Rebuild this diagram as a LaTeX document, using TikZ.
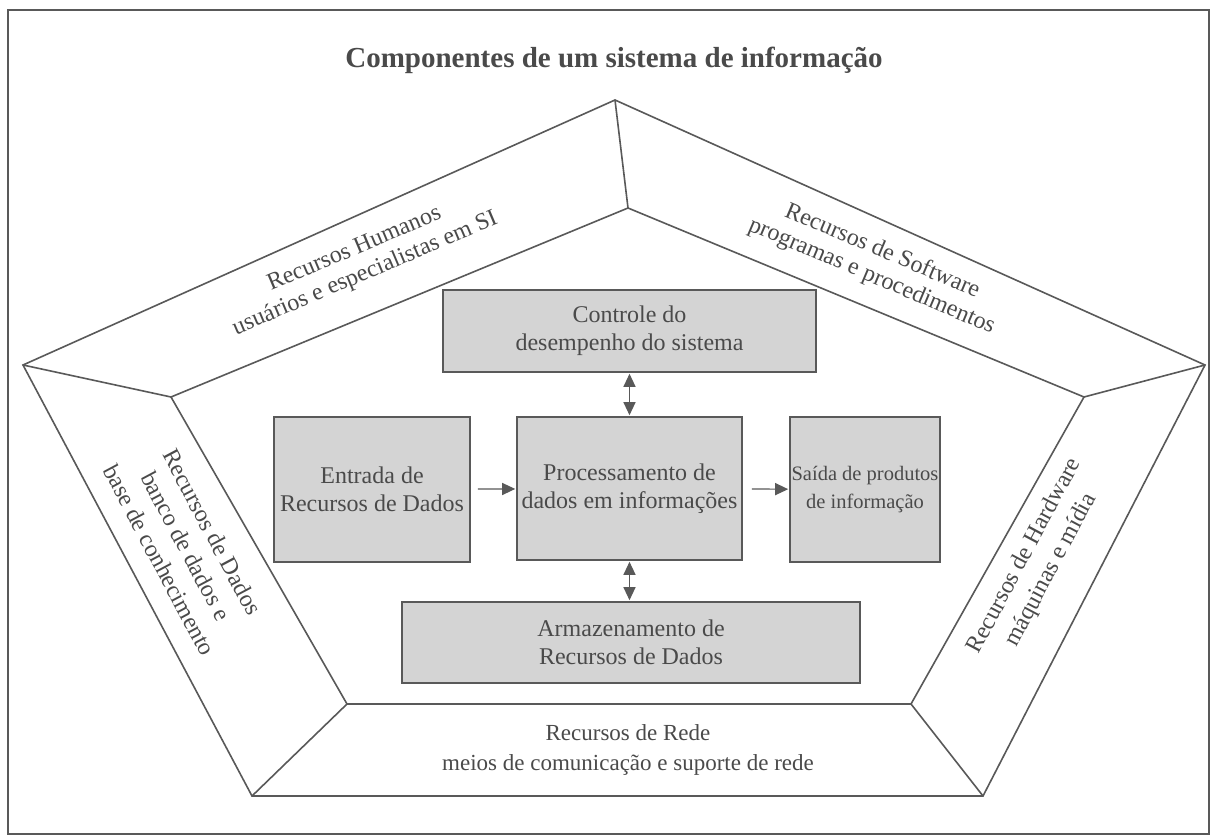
\documentclass[tikz,border=0pt]{standalone}
\usepackage{fontspec}
\setmainfont{Liberation Serif}
\usetikzlibrary{arrows.meta}
\definecolor{ln}{HTML}{595959}
\definecolor{tx}{HTML}{4A4A4A}
\definecolor{bx}{HTML}{D4D4D4}
\tikzset{
  edge/.style={draw=ln, line width=1.6pt, line join=miter},
  procbox/.style={draw=ln, line width=1.6pt, fill=bx, text=tx, align=center, font=\fontsize{24}{28}\selectfont, inner sep=0pt},
  lbl/.style={text=tx, align=center, font=\fontsize{24}{27}\selectfont, inner sep=0pt},
  arr/.style={draw=ln, line width=1.2pt, -{Triangle[length=13pt,width=12pt]}},
  dblarr/.style={draw=ln, line width=1.2pt, {Triangle[length=13pt,width=12pt]}-{Triangle[length=13pt,width=12pt]}}
}
\begin{document}
\begin{tikzpicture}[x=1pt,y=-1pt]
\useasboundingbox (0,0) rectangle (1214,837);
\fill[white] (0,0) rectangle (1214,837);
\draw[edge] (8,10) rectangle (1209,834);
% title
\node[text=tx, font=\fontsize{29}{34}\selectfont\bfseries] (title) at (614,60) {Componentes de um sistema de informação};
% pentagon vertices
\coordinate (O1) at (615,100);
\coordinate (O2) at (1205,365);
\coordinate (O3) at (983,796);
\coordinate (O4) at (252,796);
\coordinate (O5) at (23,365);
\coordinate (I1) at (628,208);
\coordinate (I2) at (1084,397);
\coordinate (I3) at (911,704);
\coordinate (I4) at (347,704);
\coordinate (I5) at (171,397);
\draw[edge] (O1) -- (O2) -- (O3) -- (O4) -- (O5) -- cycle;
\draw[edge] (I1) -- (I2) -- (I3) -- (I4) -- (I5) -- cycle;
\draw[edge] (O1) -- (I1);
\draw[edge] (O2) -- (I2);
\draw[edge] (O3) -- (I3);
\draw[edge] (O4) -- (I4);
\draw[edge] (O5) -- (I5);
% side labels
\node[lbl, rotate=23] (hum) at (360,262) {Recursos Humanos\\usuários e especialistas em SI};
\node[lbl, rotate=-23] (soft) at (877,264) {Recursos de Software\\programas e procedimentos};
\node[lbl, rotate=-62, font=\fontsize{24}{30}\selectfont] (dad) at (186,546) {Recursos de Dados\\banco de dados e\\base de conhecimento};
\node[lbl, rotate=62, font=\fontsize{24}{30}\selectfont] (hard) at (1038,563) {Recursos de Hardware\\máquinas e mídia};
\node[lbl, font=\fontsize{23}{30}\selectfont] (rede) at (628,750) {Recursos de Rede\\meios de comunicação e suporte de rede};
% boxes
\node[procbox, minimum width=373pt, minimum height=82pt] (ctrl) at (629.5,331) {Controle do\\desempenho do sistema};
\node[procbox, minimum width=196pt, minimum height=145pt] (entr) at (372,489.5) {Entrada de\\Recursos de Dados};
\node[procbox, minimum width=225pt, minimum height=143pt] (proc) at (629.5,488.5) {Processamento de\\dados em informações};
\node[procbox, minimum width=150pt, minimum height=145pt, font=\fontsize{20.5}{28}\selectfont] (said) at (865,489.5) {Saída de produtos\\de informação};
\node[procbox, minimum width=458pt, minimum height=81pt] (arm) at (631,642.5) {Armazenamento de\\Recursos de Dados};
% arrows
\draw[arr, shorten <=7pt, shorten >=1pt] (entr) -- (proc);
\draw[arr, shorten <=9pt, shorten >=1pt] (proc) -- (said);
\draw[dblarr, shorten <=1pt, shorten >=1pt] (ctrl.south -| proc.north) -- (proc.north);
\draw[dblarr, shorten <=1pt, shorten >=1pt] (proc.south) -- (arm.north -| proc.south);
\end{tikzpicture}
\end{document}
